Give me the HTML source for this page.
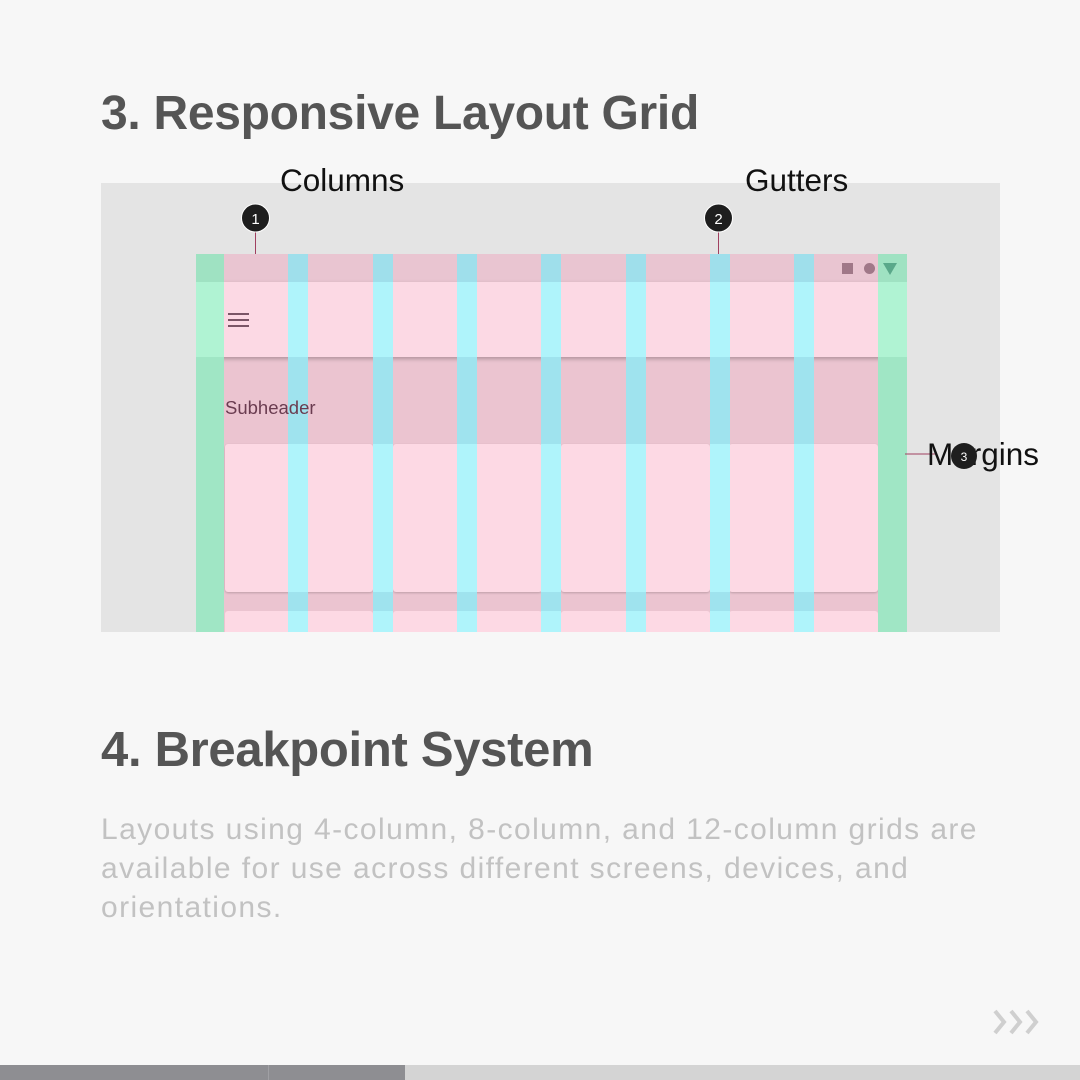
<!DOCTYPE html><html><head><style>
body{margin:0;width:1080px;height:1080px;background:#f7f7f7;position:relative;overflow:hidden;font-family:"Liberation Sans",sans-serif}
.a{position:absolute}
h1{position:absolute;margin:0;left:101px;font-size:48px;font-weight:bold;color:#555;letter-spacing:-0.3px;white-space:nowrap}
</style></head><body>
<h1 style="top:86px">3. Responsive Layout Grid</h1>
<div class="a" style="left:101px;top:183px;width:899px;height:449px;background:#e4e4e4"></div>
<div class="a" style="left:280px;top:162px;font-size:31.5px;color:#111">Columns</div>
<div class="a" style="left:745px;top:162px;font-size:31.5px;color:#111">Gutters</div>
<div class="a" style="left:196px;top:254px;width:711px;height:378px;overflow:hidden">
 <div class="a" style="left:0;top:0;width:711px;height:28px;background:#e9c5d1"></div>
 <div class="a" style="left:0;top:28px;width:711px;height:75px;background:#fcd9e4;box-shadow:0 2px 4px rgba(0,0,0,.25);z-index:2"></div>
 <div class="a" style="left:0;top:103px;width:711px;height:275px;background:#ebc4d0"></div>
 <div class="a" style="left:29px;top:190px;width:148px;height:148px;background:#fdd9e4;border-radius:3px;box-shadow:0 1px 2px rgba(0,0,0,.2)"></div>
 <div class="a" style="left:197px;top:190px;width:149px;height:148px;background:#fdd9e4;border-radius:3px;box-shadow:0 1px 2px rgba(0,0,0,.2)"></div>
 <div class="a" style="left:365px;top:190px;width:149px;height:148px;background:#fdd9e4;border-radius:3px;box-shadow:0 1px 2px rgba(0,0,0,.2)"></div>
 <div class="a" style="left:533px;top:190px;width:149px;height:148px;background:#fdd9e4;border-radius:3px;box-shadow:0 1px 2px rgba(0,0,0,.2)"></div>
 <div class="a" style="left:29px;top:357px;width:148px;height:30px;background:#fdd9e4;border-radius:3px"></div>
 <div class="a" style="left:197px;top:357px;width:149px;height:30px;background:#fdd9e4;border-radius:3px"></div>
 <div class="a" style="left:365px;top:357px;width:149px;height:30px;background:#fdd9e4;border-radius:3px"></div>
 <div class="a" style="left:533px;top:357px;width:149px;height:30px;background:#fdd9e4;border-radius:3px"></div>
 <div class="a" style="left:29px;top:143px;font-size:18.5px;color:#6a3c50;z-index:5">Subheader</div>
 <div class="a" style="left:32px;top:65px;width:21px;height:2px;background:#7a5566;box-shadow:0 -6px 0 #7a5566,0 6px 0 #7a5566;z-index:5"></div>
 <div class="a" style="left:646px;top:9px;width:11px;height:11px;background:#a07888;z-index:5"></div>
 <div class="a" style="left:668px;top:9px;width:11px;height:11px;border-radius:50%;background:#a07888;z-index:5"></div>
 <div class="a" style="left:687px;top:9px;width:0;height:0;border-left:7px solid transparent;border-right:7px solid transparent;border-top:12px solid #5aa88a;z-index:5"></div>
 <div id="ov"></div>
</div>
<svg class="a" style="left:0;top:0;z-index:10" width="1080" height="700">
 <line x1="255.5" y1="225" x2="255.5" y2="254" stroke="#a04060" stroke-width="1"/>
 <line x1="718.5" y1="225" x2="718.5" y2="254" stroke="#a04060" stroke-width="1"/>
 <circle cx="255.5" cy="218" r="14" fill="#1e1e1e" stroke="#fff" stroke-width="1"/>
 <text x="255.5" y="224" font-size="15" fill="#fff" text-anchor="middle" font-family="Liberation Sans">1</text>
 <circle cx="718.5" cy="218" r="14" fill="#1e1e1e" stroke="#fff" stroke-width="1"/>
 <text x="718.5" y="224" font-size="15" fill="#fff" text-anchor="middle" font-family="Liberation Sans">2</text>
 <line x1="905" y1="454" x2="935" y2="454" stroke="#a04060" stroke-width="1"/>
 <text x="927" y="465" font-size="31.5" fill="#111" font-family="Liberation Sans">Margins</text>
 <circle cx="964" cy="456" r="13" fill="#1e1e1e"/>
 <text x="964" y="461" font-size="12" fill="#fff" text-anchor="middle" font-family="Liberation Sans">3</text>
</svg>
<h1 style="top:722px;font-size:49px">4. Breakpoint System</h1>
<div class="a" style="left:101px;top:810px;width:905px;font-size:30px;letter-spacing:1.4px;line-height:39px;color:#c2c2c2">Layouts using 4-column, 8-column, and 12-column grids are available for use across different screens, devices, and orientations.</div>
<svg class="a" style="left:990px;top:1008px" width="56" height="30">
 <g fill="none" stroke="#cfcfcf" stroke-width="4">
  <polyline points="5,3 14,14 5,25"/><polyline points="21,3 30,14 21,25"/><polyline points="37,3 46,14 37,25"/>
 </g>
</svg>
<div class="a" style="left:0;top:1065px;width:1080px;height:15px;background:#d4d4d4"></div>
<div class="a" style="left:0;top:1065px;width:405px;height:15px;background:#8e8e92"></div>
<div class="a" style="left:268px;top:1065px;width:1px;height:15px;background:#a0a0a4"></div>
<script>
var ov=document.getElementById('ov'),h='';
function r(l,t,w,hh,c){h+='<div class="a" style="z-index:3;left:'+l+'px;top:'+t+'px;width:'+w+'px;height:'+hh+'px;background:'+c+'"></div>';}
r(0,0,28,28,'#9fe2c2');r(0,28,28,75,'#b0f3d3');r(0,103,28,275,'#a0e6c5');
r(682,0,29,28,'#9fe2c2');r(682,28,29,75,'#b0f3d3');r(682,103,29,275,'#a0e6c5');
for(var i=1;i<=7;i++){var x=Math.round(28+i*64.3+(i-1)*20);
 r(x,0,20,28,'#9fdfeb');r(x,28,20,75,'#aff4fb');r(x,103,20,275,'#9fe3ee');
 r(x,190,20,148,'#aff4fb');r(x,357,20,30,'#aff4fb');}
ov.innerHTML=h;
</script>
</body></html>
